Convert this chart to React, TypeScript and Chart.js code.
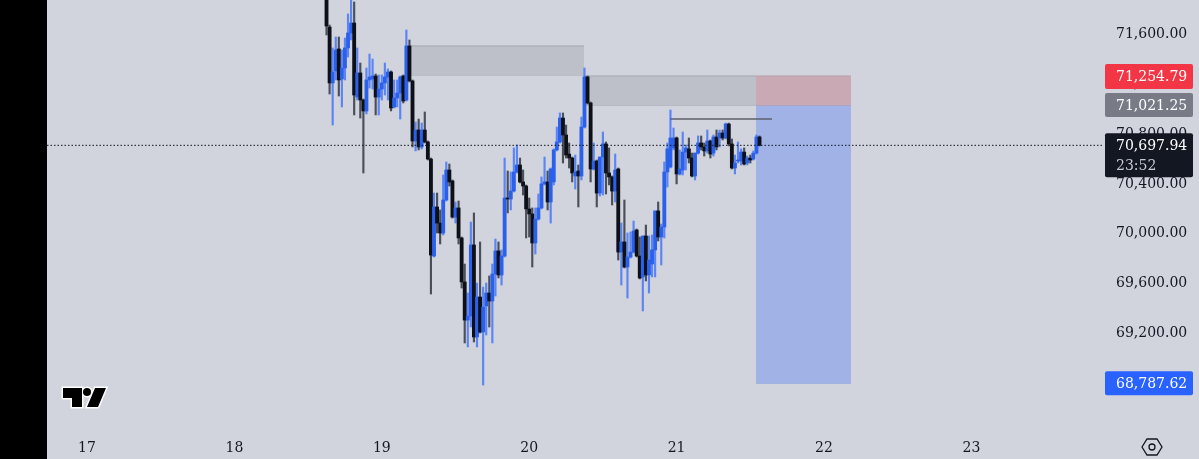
import React, { useEffect, useRef } from "react";
import { Chart, registerables } from "chart.js";

Chart.register(...registerables);

const opens = [71889,71648,71199,71295,71472,71231,71319,71480,71600,71680,71086,71279,71062,70974,71223,71231,71255,71086,71150,71199,71247,71287,71006,71078,71118,71255,71062,71496,71215,70733,70821,70685,70821,70725,70588,69809,70203,70074,69994,70259,70500,70412,70122,70195,69954,69601,69295,69327,69898,69159,69480,69199,69408,69512,69448,69665,69850,69657,69809,70275,70267,70331,70484,70540,70404,70371,70187,70147,69914,70106,70195,70388,70404,70243,70404,70661,70725,70917,70781,70628,70596,70452,70492,70452,70845,71247,71038,70508,70572,70315,70604,70709,70476,70444,70331,70508,69841,69922,69721,69801,69841,70018,69809,69641,69970,69657,69745,69858,70171,69962,70042,70484,70524,70677,70757,70468,70500,70644,70669,70596,70452,70636,70717,70685,70653,70733,70636,70765,70757,70797,70757,70869,70709,70516,70572,70572,70644,70556,70596,70588,70636,70765];
const highs = [71945,71664,71480,71568,71568,71464,71560,71753,71905,71849,71480,71359,71070,71319,71431,71391,71271,71263,71263,71359,71311,71295,71223,71223,71255,71263,71624,71544,71223,70885,70909,70877,70966,70733,70596,70315,70315,70179,70460,70564,70548,70420,70243,70251,69962,69745,69512,70082,70155,69592,69922,69560,69592,69649,69745,69946,69922,69858,70596,70492,70484,70677,70701,70596,70500,70379,70275,70195,70195,70307,70444,70604,70492,70516,70669,70845,70958,70958,70861,70717,70604,70620,70540,70925,71319,71255,71046,70717,70580,70604,70805,70725,70677,70452,70628,70516,70074,70259,69994,70002,70090,70026,69962,69970,70058,69970,69978,70171,70243,70066,70564,70717,70982,70837,70765,70661,70805,70701,70757,70636,70636,70773,70773,70717,70821,70741,70781,70821,70821,70821,70877,70877,70749,70620,70725,70669,70677,70612,70620,70653,70781,70773];
const lows = [71584,71110,70861,71223,71094,71006,71223,71407,71544,70942,71062,70917,70476,70950,71158,71150,70942,70942,71062,71102,71062,70974,70998,71006,70909,71038,71054,71207,70685,70653,70661,70669,70717,70580,69504,69801,69994,69906,69978,70251,70371,70114,70074,69906,69552,69111,69079,69239,69119,69079,69191,68773,69175,69239,69111,69488,69633,69576,69801,70155,70179,70323,70476,70396,70299,69954,69962,69721,69825,70098,70187,70380,70179,70074,70380,70653,70717,70556,70596,70516,70404,70347,70203,70420,70837,71030,70404,70500,70203,70291,70299,70307,70380,70219,70243,69777,69576,69713,69472,69793,69833,69801,69625,69368,69609,69512,69641,69641,69930,69737,69954,70363,70516,70661,70388,70460,70460,70500,70556,70444,70420,70628,70661,70612,70636,70596,70612,70661,70685,70741,70749,70693,70508,70468,70556,70540,70540,70540,70556,70580,70628,70693];
const closes = [71656,71199,71287,71464,71223,71319,71480,71600,71680,71102,71279,71062,70974,71223,71247,71255,71086,71150,71199,71247,71287,70998,71078,71118,71247,71054,71496,71215,70733,70821,70685,70821,70725,70588,69817,70203,70074,69994,70259,70500,70404,70122,70195,69954,69601,69295,69327,69898,69159,69480,69199,69400,69512,69448,69665,69850,69657,69809,70275,70267,70331,70484,70540,70404,70371,70187,70147,69914,70106,70195,70388,70404,70243,70508,70661,70725,70917,70781,70620,70596,70476,70484,70452,70845,71247,71038,70508,70572,70315,70604,70709,70476,70444,70331,70500,69841,69922,69721,69801,69841,70010,69809,69633,69970,69657,69777,69858,70171,69962,70042,70484,70669,70757,70757,70468,70508,70644,70677,70596,70452,70636,70717,70685,70653,70733,70628,70765,70685,70797,70757,70869,70709,70516,70556,70580,70644,70548,70596,70580,70636,70765,70697.94];

const firstBarDay = 18.625;
const barsPerDay = 48;
const dayTicks = [17, 18, 19, 20, 21, 22, 23];
const priceTicks = [71600, 71200, 70800, 70400, 70000, 69600, 69200, 68800];

const stopPrice = 71254.79;
const entryPrice = 71021.25;
const targetPrice = 68787.62;
const lastPrice = 70697.94;
const countdown = "23:52";
const upperZone = { from: 19.191, to: 20.372, top: 71496, bottom: 71263 };
const lowerZone = { from: 20.372, to: 21.539, top: stopPrice, bottom: entryPrice };
const positionSpan = { from: 21.539, to: 22.183 };
const swingLine = { from: 20.955, to: 21.647, price: 70909 };

const BG = "#d1d4dc";
const INK = "#131722";
const UP = "#2a60ea";
const DOWN = "#0d1017";
const FONT = '"DejaVu Serif", serif';

const fmt = (v: number) =>
  v.toLocaleString("en-US", { minimumFractionDigits: 2, maximumFractionDigits: 2 });

function zone(from: number, to: number, top: number, bottom: number, fill: string, edge: string) {
  const base = { type: "line", pointRadius: 0, borderColor: edge, borderWidth: 1, order: 5 };
  return [
    { ...base, data: [{ x: from, y: top }, { x: to, y: top }], fill: "+1", backgroundColor: fill },
    { ...base, data: [{ x: from, y: bottom }, { x: to, y: bottom }], fill: false },
  ];
}

const badges = [
  { price: stopPrice, bg: "#f23645", top: -12, h: 25 },
  { price: entryPrice, bg: "#787b86", top: -12, h: 24 },
  { price: targetPrice, bg: "#2962ff", top: -12, h: 24 },
];

const overlay = {
  id: "overlay",
  beforeDraw(chart: any) {
    const { ctx, width, height } = chart;
    ctx.save();
    ctx.fillStyle = BG;
    ctx.fillRect(0, 0, width, height);
    ctx.fillStyle = "#000";
    ctx.fillRect(0, 0, 47, height);
    ctx.restore();
  },
  afterDraw(chart: any) {
    const { ctx } = chart;
    const y = chart.scales.y;
    ctx.save();
    ctx.textBaseline = "middle";
    ctx.textAlign = "left";
    ctx.font = `14px ${FONT}`;
    for (const b of badges) {
      const cy = y.getPixelForValue(b.price);
      ctx.fillStyle = b.bg;
      ctx.beginPath();
      ctx.roundRect(1105, cy + b.top, 88, b.h, 2);
      ctx.fill();
      ctx.fillStyle = "#fff";
      ctx.fillText(fmt(b.price), 1116, cy + 1);
    }
    const ly = y.getPixelForValue(lastPrice);
    ctx.fillStyle = INK;
    ctx.beginPath();
    ctx.roundRect(1105, ly - 12, 88, 44, 2);
    ctx.fill();
    ctx.fillStyle = "#fff";
    ctx.fillText(fmt(lastPrice), 1116, ly + 1);
    ctx.fillStyle = "#c8cad1";
    ctx.fillText(countdown, 1116, ly + 21);

    // logo
    const logo = new Path2D("M63 388H82V407H72V398H63Z M95 388H106L98 407H87Z");
    ctx.lineJoin = "miter";
    ctx.strokeStyle = "#fff";
    ctx.lineWidth = 3;
    ctx.stroke(logo);
    ctx.beginPath();
    ctx.arc(87, 392, 5.5, 0, Math.PI * 2);
    ctx.fillStyle = "#fff";
    ctx.fill();
    ctx.fillStyle = "#000";
    ctx.fill(logo);
    ctx.beginPath();
    ctx.arc(87, 392, 4, 0, Math.PI * 2);
    ctx.fill();

    // settings hexagon
    ctx.strokeStyle = INK;
    ctx.lineWidth = 1.3;
    ctx.beginPath();
    ctx.moveTo(1142, 447);
    ctx.lineTo(1147, 439);
    ctx.lineTo(1157, 439);
    ctx.lineTo(1162, 447);
    ctx.lineTo(1157, 455);
    ctx.lineTo(1147, 455);
    ctx.closePath();
    ctx.stroke();
    ctx.beginPath();
    ctx.arc(1152, 447, 3, 0, Math.PI * 2);
    ctx.stroke();
    ctx.restore();
  },
};

export default function App() {
  const ref = useRef<HTMLCanvasElement>(null);
  useEffect(() => {
    const xs = opens.map((_, i) => firstBarDay + i / barsPerDay);
    const up = opens.map((o, i) => closes[i] >= o);
    const chart = new Chart(ref.current as HTMLCanvasElement, {
      type: "bar",
      data: {
        datasets: [
          ...zone(upperZone.from, upperZone.to, upperZone.top, upperZone.bottom, "#bdc0c9", "#a3a6af"),
          ...zone(lowerZone.from, lowerZone.to, lowerZone.top, lowerZone.bottom, "#bdc0c9", "#a3a6af"),
          ...zone(positionSpan.from, positionSpan.to, stopPrice, entryPrice, "#c9a9b4", "#b9a0ac"),
          ...zone(positionSpan.from, positionSpan.to, entryPrice, targetPrice, "#a0b2e6", "#95a8dc"),
          {
            type: "line",
            order: 4,
            pointRadius: 0,
            borderColor: "#5d616d",
            borderWidth: 1.5,
            data: [{ x: swingLine.from, y: swingLine.price }, { x: swingLine.to, y: swingLine.price }],
          },
          {
            type: "bar",
            order: 2,
            grouped: false,
            barThickness: 1.5,
            backgroundColor: up.map((u) => (u ? "rgba(41,98,255,0.7)" : "rgba(19,23,34,0.7)")),
            data: xs.map((x, i) => ({ x, y: [lows[i], highs[i]] })),
          },
          {
            type: "bar",
            order: 1,
            grouped: false,
            barThickness: 3.2,
            backgroundColor: up.map((u) => (u ? UP : DOWN)),
            data: xs.map((x, i) => ({ x, y: [opens[i], closes[i]] })),
          },
          {
            type: "line",
            order: 0,
            pointRadius: 0,
            borderColor: INK,
            borderWidth: 1,
            borderDash: [1.5, 2],
            data: [{ x: 16.7286, y: lastPrice }, { x: 23.8996, y: lastPrice }],
          },
        ] as any,
      },
      options: {
        animation: false,
        responsive: false,
        layout: { padding: { left: 47, right: 0, top: 0, bottom: 0 } },
        plugins: { legend: { display: false }, tooltip: { enabled: false } },
        scales: {
          x: {
            type: "linear",
            min: 16.7286,
            max: 23.8996,
            offset: false,
            grid: { display: false, drawTicks: false },
            border: { display: false },
            afterBuildTicks: (s: any) => {
              s.ticks = dayTicks.map((value) => ({ value }));
            },
            afterFit: (s: any) => {
              s.height = 27;
              s.paddingLeft = 0;
              s.paddingRight = 0;
            },
            ticks: {
              color: INK,
              font: { family: FONT, size: 14 },
              maxRotation: 0,
              autoSkip: false,
              padding: 8,
              callback: (v: any) => String(v),
            },
          },
          y: {
            position: "right",
            min: 68396,
            max: 71865,
            grid: { display: false, drawTicks: false },
            border: { display: false },
            afterBuildTicks: (s: any) => {
              s.ticks = priceTicks.map((value) => ({ value }));
            },
            afterFit: (s: any) => {
              s.width = 95;
              s.paddingTop = 0;
              s.paddingBottom = 0;
            },
            ticks: {
              color: INK,
              font: { family: FONT, size: 14 },
              padding: 12,
              labelOffset: 1.5,
              autoSkip: false,
              callback: (v: any) => fmt(Number(v)),
            },
          },
        },
      } as any,
      plugins: [overlay as any],
    });
    return () => chart.destroy();
  }, []);
  return (
    <div style={{ position: "fixed", left: 0, top: 0, width: 1199, height: 459 }}>
      <canvas ref={ref} width={1199} height={459} style={{ display: "block" }} />
    </div>
  );
}
